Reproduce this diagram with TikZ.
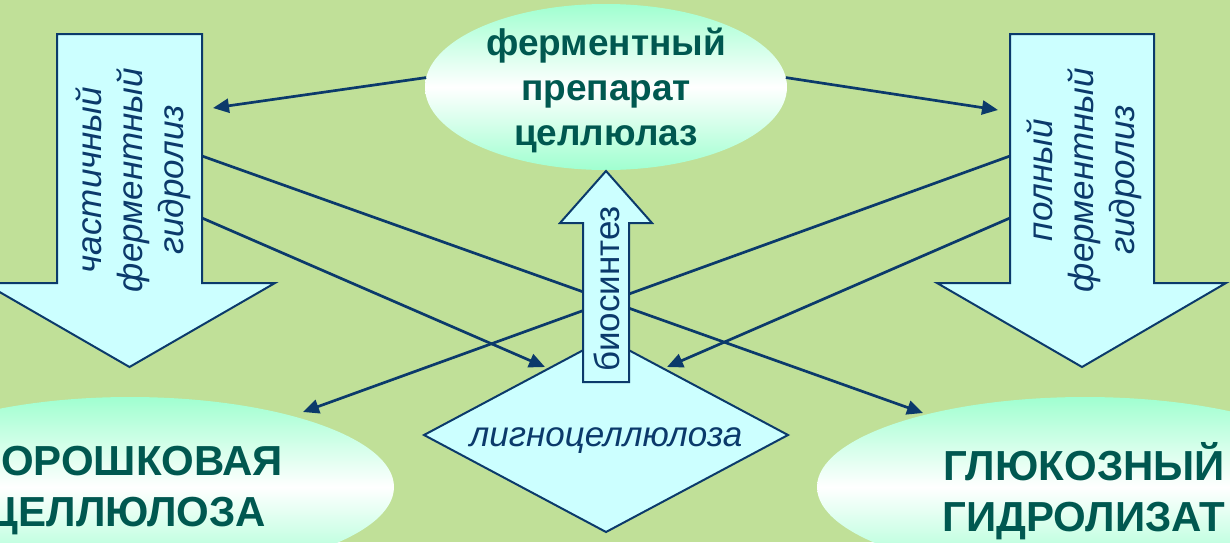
\documentclass[tikz,border=0pt]{standalone}
\usepackage{fontspec}
\setmainfont{Liberation Sans}
\usetikzlibrary{shapes.geometric,arrows.meta}
\definecolor{bg}{HTML}{C0E098}
\definecolor{cyanfill}{HTML}{CCFFFF}
\definecolor{navy}{HTML}{0B3A6B}
\definecolor{mint}{HTML}{A0FFD0}
\definecolor{teal}{HTML}{005850}
\begin{document}
\begin{tikzpicture}[x=0.5pt,y=-0.5pt,
  softell/.style={ellipse, draw=none, top color=mint, bottom color=mint, middle color=white, inner sep=0pt, outer sep=0pt},
  bigtext/.style={text=teal, align=center, font=\bfseries, inner sep=0pt},
  shapebox/.style={draw=navy, fill=cyanfill, line width=1pt, line join=miter},
  arrtext/.style={text=navy, align=center, rotate=90, inner sep=0pt, font=\itshape\fontsize{17.5}{20.5}\selectfont},
  conn/.style={draw=navy, line width=1.35pt, -{Triangle[length=8pt,width=7pt]}}
]
\useasboundingbox (0,0) rectangle (1230,542);
\clip (0,0) rectangle (1230,542);
\fill[bg] (0,0) rectangle (1230,542);

% bottom ellipses
\node[softell, minimum width=264pt, minimum height=90pt] (pc) at (130,487) {};
\node[bigtext, font=\bfseries\fontsize{21}{25.5}\selectfont] (pct) at (127,491) {ПОРОШКОВАЯ\\ЦЕЛЛЮЛОЗА};
\node[softell, minimum width=268pt, minimum height=90pt] (gl) at (1085,487) {};
\node[bigtext, font=\bfseries\fontsize{21}{25.5}\selectfont] (glt) at (1084,491) {ГЛЮКОЗНЫЙ\\ГИДРОЛИЗАТ};

% top ellipse
\node[softell, minimum width=181pt, minimum height=83pt] (enz) at (606,87) {};
\node[bigtext, font=\bfseries\fontsize{18.5}{22.5}\selectfont] (enzt) at (606,90) {ферментный\\препарат\\целлюлаз};

% left big arrow
\draw[shapebox] (57,34) -- (202,34) -- (202,283) -- (275,283) -- (129.5,367) -- (-16,283) -- (57,283) -- cycle;
\node[arrtext] (lat) at (133,180) {частичный\\ферментный\\гидролиз};
% right big arrow
\draw[shapebox] (1010,34) -- (1154,34) -- (1154,283) -- (1226,283) -- (1082,367) -- (937,283) -- (1010,283) -- cycle;
\node[arrtext] (rat) at (1084,180) {полный\\ферментный\\гидролиз};

% diamond
\node[diamond, shapebox, minimum width=182pt, minimum height=97pt, inner sep=0pt, outer sep=0pt] (lig) at (606,435) {};
\node[text=navy, inner sep=0pt, font=\itshape\fontsize{17.5}{20.5}\selectfont] (ligt) at (606,441) {лигноцеллюлоза};

% connector end points
\coordinate (laIn) at (213,108);
\coordinate (raIn) at (998,110);
\coordinate (laOut1) at (202,156);
\coordinate (laOut2) at (202,218);
\coordinate (raOut1) at (1010,156);
\coordinate (raOut2) at (1010,218);
\coordinate (glTip) at (923,413);
\coordinate (pcTip) at (303,412);
\coordinate (ligL) at (545,367);
\coordinate (ligR) at (667,367);

\draw[conn] (enz.177) -- (laIn);
\draw[conn] (enz.3) -- (raIn);
\draw[conn] (laOut1) -- (glTip);
\draw[conn] (laOut2) -- (ligL);
\draw[conn] (raOut1) -- (pcTip);
\draw[conn] (raOut2) -- (ligR);

% up arrow (biosynthesis)
\draw[shapebox] (583,382) -- (583,223) -- (560,223) -- (606,171) -- (652,223) -- (629,223) -- (629,382) -- cycle;
\node[text=navy, rotate=90, inner sep=0pt, font=\fontsize{17.5}{20.5}\selectfont] (bio) at (607,289) {биосинтез};
\end{tikzpicture}
\end{document}
